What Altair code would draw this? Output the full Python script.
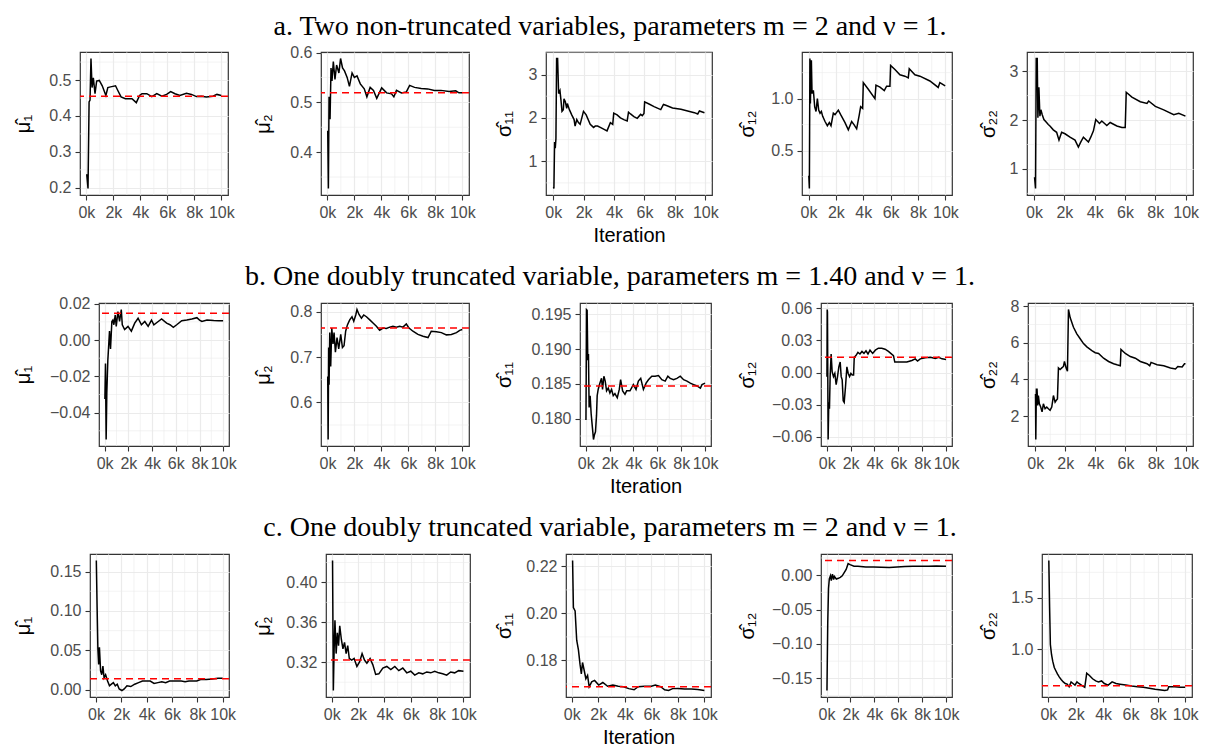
import altair as alt
import pandas as pd

# ------------------------------------------------------------------ data
# Row a: two non-truncated variables
a_mu1_it = [25, 120, 200, 270, 340, 420, 515, 640, 760, 955, 1175, 1445, 1590, 1790, 2160, 2330, 2570, 2890, 3380, 3700, 3945, 4120, 4480, 4850, 5220, 5590, 5950, 6250, 6570, 6930, 7420, 7790, 8160, 8530, 8890, 9380, 9680, 10000]
a_mu1 = [0.238, 0.198, 0.439, 0.444, 0.560, 0.479, 0.506, 0.462, 0.497, 0.499, 0.484, 0.457, 0.479, 0.481, 0.484, 0.471, 0.453, 0.448, 0.448, 0.437, 0.457, 0.462, 0.462, 0.454, 0.462, 0.455, 0.460, 0.468, 0.462, 0.457, 0.463, 0.460, 0.454, 0.455, 0.453, 0.455, 0.460, 0.457]

a_mu2_it = [24, 73, 122, 195, 268, 341, 439, 561, 683, 854, 976, 1122, 1268, 1463, 1634, 1829, 2000, 2195, 2439, 2732, 2927, 3171, 3415, 3659, 4024, 4390, 4756, 4927, 5122, 5488, 5854, 6098, 6463, 6951, 7439, 7927, 8415, 9024, 9512, 9756, 10000]
a_mu2 = [0.443, 0.327, 0.511, 0.466, 0.569, 0.543, 0.582, 0.546, 0.575, 0.559, 0.588, 0.569, 0.563, 0.550, 0.532, 0.559, 0.550, 0.553, 0.537, 0.527, 0.511, 0.530, 0.524, 0.508, 0.529, 0.519, 0.517, 0.511, 0.524, 0.519, 0.521, 0.534, 0.530, 0.528, 0.527, 0.524, 0.524, 0.522, 0.523, 0.519, 0.519]

a_s11_it = [20, 44, 88, 133, 177, 221, 287, 354, 442, 508, 575, 663, 707, 796, 884, 928, 1061, 1216, 1370, 1437, 1547, 1658, 1768, 1879, 1989, 2166, 2431, 2652, 2763, 2917, 3094, 3315, 3536, 3757, 3912, 3978, 4199, 4420, 4641, 4862, 4950, 5083, 5304, 5525, 5746, 5857, 5967, 6011, 6299, 6630, 7072, 7249, 7404, 7846, 8398, 8840, 9282, 9503, 9614, 9945]
a_s11 = [0.41, 0.37, 1.44, 1.30, 1.52, 3.37, 3.37, 2.56, 2.63, 2.41, 2.15, 2.19, 2.44, 2.37, 2.22, 2.33, 2.19, 2.07, 1.96, 1.81, 1.96, 1.89, 1.85, 2.00, 2.15, 2.07, 1.85, 1.78, 1.81, 1.81, 1.78, 1.74, 1.70, 1.89, 1.85, 2.11, 2.07, 2.00, 1.96, 1.93, 2.13, 2.09, 2.03, 1.99, 2.08, 2.05, 2.10, 2.37, 2.32, 2.26, 2.19, 2.31, 2.29, 2.23, 2.20, 2.16, 2.12, 2.09, 2.16, 2.12]

a_s12_it = [20, 60, 100, 134, 207, 255, 353, 450, 547, 645, 742, 839, 937, 1034, 1204, 1375, 1521, 1642, 1812, 1934, 2177, 2348, 2664, 2907, 3151, 3321, 3516, 3710, 3808, 3954, 4002, 4367, 4854, 4927, 5219, 5535, 5705, 5948, 5997, 6313, 6678, 7043, 7287, 7360, 7773, 8138, 8868, 9476, 9597, 9986]
a_s12 = [0.26, 0.136, 1.386, 0.954, 1.37, 1.05, 1.08, 0.92, 0.877, 1.00, 0.89, 0.86, 0.877, 0.83, 0.78, 0.74, 0.77, 0.74, 0.86, 0.846, 0.89, 0.846, 0.77, 0.70, 0.78, 0.75, 0.71, 0.846, 0.923, 0.907, 1.154, 1.09, 1.00, 1.13, 1.11, 1.077, 1.12, 1.12, 1.32, 1.28, 1.23, 1.216, 1.20, 1.287, 1.23, 1.216, 1.17, 1.108, 1.154, 1.123]

a_s22_it = [31, 97, 141, 208, 252, 318, 384, 450, 539, 649, 826, 936, 1047, 1267, 1488, 1643, 1819, 2040, 2371, 2702, 2923, 3078, 3255, 3586, 3740, 3917, 4072, 4315, 4469, 4800, 5021, 5463, 5794, 6015, 6081, 6456, 7008, 7450, 7560, 8002, 8554, 9216, 9547, 9989]
a_s22 = [0.83, 0.60, 3.26, 3.26, 2.05, 2.67, 2.08, 2.21, 2.11, 2.01, 1.95, 1.91, 1.88, 1.80, 1.75, 1.59, 1.75, 1.72, 1.65, 1.59, 1.45, 1.55, 1.65, 1.55, 1.65, 1.78, 2.01, 1.93, 1.98, 1.89, 1.95, 1.88, 1.85, 1.85, 2.57, 2.47, 2.375, 2.34, 2.39, 2.28, 2.21, 2.11, 2.14, 2.08]

# Row b: one doubly truncated variable, m = 1.40
b_mu1_it = [20, 68, 125, 181, 266, 408, 493, 606, 692, 776, 890, 975, 1117, 1258, 1400, 1485, 1683, 1967, 2250, 2534, 2817, 3100, 3384, 3667, 3950, 4149, 4517, 4800, 5226, 5509, 5792, 6076, 6501, 6926, 7351, 7776, 8003, 8201, 8627, 9194, 9619, 9987]
b_mu1 = [-0.0325, -0.013, -0.0548, -0.029, -0.0112, 0.0049, -0.005, 0.0102, 0.011, 0.0084, 0.0138, 0.0075, 0.0156, 0.0102, 0.0168, 0.0084, 0.0058, 0.0075, 0.0049, 0.0093, 0.012, 0.0084, 0.0102, 0.0075, 0.011, 0.0084, 0.0102, 0.0116, 0.0093, 0.0084, 0.007, 0.0084, 0.0106, 0.011, 0.0116, 0.0123, 0.011, 0.0102, 0.011, 0.0107, 0.0106, 0.0106]

b_mu2_it = [20, 50, 90, 120, 170, 240, 320, 415, 490, 590, 710, 835, 985, 1110, 1230, 1350, 1480, 1650, 1820, 1950, 2100, 2190, 2340, 2520, 2690, 2890, 3140, 3380, 3630, 3870, 4120, 4370, 4620, 4860, 5110, 5360, 5600, 5850, 6050, 6340, 6710, 7090, 7460, 7700, 8080, 8450, 8820, 9190, 9570, 9810, 10000]
b_mu2 = [0.657, 0.518, 0.721, 0.639, 0.754, 0.679, 0.764, 0.729, 0.754, 0.711, 0.743, 0.718, 0.750, 0.721, 0.725, 0.757, 0.771, 0.782, 0.789, 0.779, 0.793, 0.805, 0.794, 0.786, 0.793, 0.789, 0.782, 0.775, 0.768, 0.759, 0.764, 0.763, 0.766, 0.768, 0.766, 0.768, 0.766, 0.773, 0.764, 0.757, 0.750, 0.746, 0.743, 0.757, 0.756, 0.754, 0.749, 0.750, 0.754, 0.759, 0.761]

b_s11_it = [20, 40, 62, 118, 174, 230, 286, 370, 455, 567, 651, 735, 819, 904, 960, 1044, 1184, 1324, 1409, 1521, 1633, 1746, 1886, 2026, 2166, 2306, 2447, 2643, 2812, 2924, 3092, 3289, 3429, 3710, 3990, 4215, 4411, 4608, 4832, 5057, 5253, 5534, 5814, 6095, 6375, 6656, 6880, 7077, 7357, 7638, 7919, 8199, 8480, 8760, 9041, 9322, 9602, 9742, 9995]
b_s11 = [0.1798, 0.186, 0.1957, 0.1956, 0.1884, 0.1893, 0.1816, 0.1833, 0.1807, 0.1786, 0.177, 0.1777, 0.1781, 0.1805, 0.1833, 0.1842, 0.1851, 0.1858, 0.1842, 0.1861, 0.1854, 0.184, 0.1844, 0.1837, 0.1842, 0.1833, 0.1836, 0.183, 0.1842, 0.1856, 0.184, 0.1835, 0.184, 0.184, 0.1849, 0.1842, 0.1854, 0.1858, 0.1842, 0.1851, 0.1856, 0.1861, 0.1861, 0.1862, 0.1856, 0.1854, 0.1861, 0.1858, 0.1856, 0.1858, 0.1861, 0.1856, 0.1854, 0.1851, 0.1849, 0.1847, 0.1844, 0.1849, 0.1851]

b_s12_it = [20, 40, 62, 118, 174, 230, 286, 370, 455, 567, 679, 791, 904, 1016, 1128, 1212, 1296, 1381, 1465, 1577, 1690, 1802, 1914, 2026, 2138, 2250, 2306, 2447, 2615, 2784, 2952, 3120, 3289, 3457, 3626, 3850, 4074, 4327, 4608, 4888, 5169, 5365, 5590, 5702, 5870, 6291, 6712, 7133, 7413, 7610, 7834, 8255, 8676, 9097, 9378, 9658, 9995]
b_s12 = [-0.0038, 0.0588, 0.0564, -0.0624, -0.0278, -0.0338, -0.0038, 0.0173, 0.0008, -0.0038, -0.0008, -0.0113, -0.0038, 0.0053, 0.0098, -0.0038, -0.0068, -0.0263, -0.0278, -0.0128, 0.0053, -0.0008, -0.0038, -0.0008, -0.0023, -0.0023, 0.0143, 0.0158, 0.0188, 0.0173, 0.0197, 0.0179, 0.0203, 0.0173, 0.0209, 0.0179, 0.0209, 0.0227, 0.0227, 0.0218, 0.0197, 0.0179, 0.0158, 0.0098, 0.0098, 0.0098, 0.0098, 0.0113, 0.0128, 0.0107, 0.0128, 0.0137, 0.0143, 0.0131, 0.0143, 0.0128, 0.0122]

b_s22_it = [20, 40, 78, 122, 167, 211, 278, 367, 456, 544, 655, 767, 878, 989, 1100, 1211, 1322, 1389, 1478, 1544, 1655, 1767, 1878, 1944, 2055, 2144, 2211, 2322, 2544, 2766, 2989, 3211, 3433, 3766, 3988, 4211, 4544, 4877, 5210, 5432, 5655, 5700, 5988, 6321, 6654, 6988, 7432, 7610, 7699, 8099, 8543, 8988, 9321, 9476, 9765, 9921, 9988]
b_s22 = [3.2, 0.72, 3.47, 3.47, 2.58, 3.12, 2.67, 2.49, 2.23, 2.67, 2.40, 2.49, 2.40, 2.32, 2.49, 3.12, 2.76, 2.85, 2.94, 4.63, 4.54, 4.63, 4.71, 4.98, 4.63, 4.45, 7.82, 7.38, 6.85, 6.49, 6.22, 5.96, 5.78, 5.57, 5.46, 5.42, 5.16, 4.98, 4.86, 4.80, 4.75, 5.64, 5.42, 5.25, 5.16, 4.98, 4.86, 4.75, 4.93, 4.80, 4.75, 4.63, 4.57, 4.71, 4.68, 4.86, 4.86]

# Row c: one doubly truncated variable, m = 2
c_mu1_it = [30, 92, 153, 214, 275, 367, 459, 550, 642, 765, 917, 1070, 1223, 1376, 1529, 1682, 1835, 2049, 2232, 2446, 2752, 3058, 3364, 3670, 3975, 4281, 4587, 4893, 5199, 5504, 5810, 6116, 6422, 6728, 7033, 7339, 7645, 7951, 8257, 8715, 9174, 9633, 10000]
c_mu1 = [0.164, 0.105, 0.052, 0.032, 0.054, 0.024, 0.019, 0.030, 0.015, 0.019, 0.011, 0.005, 0.007, 0.009, 0.005, 0.007, 0.001, -0.001, 0.001, 0.005, 0.004, 0.007, 0.009, 0.011, 0.011, 0.011, 0.008, 0.009, 0.010, 0.009, 0.011, 0.011, 0.011, 0.011, 0.010, 0.011, 0.011, 0.011, 0.013, 0.013, 0.0135, 0.0145, 0.0146]

c_mu2_it = [60, 121, 182, 242, 333, 424, 515, 606, 727, 848, 970, 1091, 1212, 1333, 1515, 1697, 1909, 2121, 2303, 2485, 2666, 2909, 3121, 3333, 3575, 3878, 4181, 4484, 4787, 5090, 5393, 5696, 5999, 6302, 6605, 6908, 7211, 7514, 7817, 8120, 8423, 8726, 9029, 9332, 9635, 9999]
c_mu2 = [0.422, 0.2917, 0.3335, 0.362, 0.3287, 0.3495, 0.3367, 0.3566, 0.3431, 0.3335, 0.34, 0.3287, 0.3367, 0.3238, 0.3222, 0.3238, 0.3158, 0.3206, 0.3287, 0.3222, 0.319, 0.3238, 0.3174, 0.3078, 0.3084, 0.3142, 0.3158, 0.3126, 0.3158, 0.3116, 0.3142, 0.3094, 0.311, 0.3071, 0.3094, 0.3084, 0.3103, 0.3094, 0.311, 0.3094, 0.3084, 0.3071, 0.3103, 0.3094, 0.3116, 0.311]

c_s11_it = [60, 120, 250, 370, 500, 620, 720, 810, 940, 1060, 1190, 1310, 1500, 1720, 2030, 2340, 2700, 3100, 3500, 3900, 4300, 4700, 5000, 5500, 6000, 6300, 6700, 7000, 7300, 7600, 8000, 8500, 9000, 9500, 10000]
c_s11 = [0.2225, 0.2025, 0.201, 0.1886, 0.1845, 0.1784, 0.1743, 0.1791, 0.1756, 0.1722, 0.1736, 0.1688, 0.1709, 0.1715, 0.1695, 0.1706, 0.169, 0.1695, 0.169, 0.1688, 0.168, 0.1675, 0.1688, 0.169, 0.169, 0.1695, 0.1688, 0.1675, 0.1672, 0.168, 0.1681, 0.1678, 0.1678, 0.1676, 0.1672]

c_s12_it = [33, 98, 164, 230, 328, 394, 492, 590, 656, 820, 984, 1148, 1312, 1476, 1640, 1804, 1968, 2296, 2624, 3280, 3936, 4592, 5248, 5904, 6560, 7216, 7872, 8528, 9184, 10000]
c_s12 = [-0.1676, -0.0704, -0.0194, -0.0056, -0.0009, -0.0079, 0.0014, -0.0065, -0.0019, -0.0056, -0.0046, -0.0032, -0.0009, 0.0037, 0.0083, 0.0167, 0.0153, 0.013, 0.013, 0.012, 0.012, 0.0116, 0.0111, 0.012, 0.0125, 0.013, 0.013, 0.013, 0.0134, 0.013]

c_s22_it = [29, 86, 143, 229, 314, 429, 543, 657, 800, 943, 1086, 1229, 1371, 1514, 1657, 1800, 1943, 2086, 2228, 2514, 2657, 2800, 3000, 3228, 3457, 3657, 3886, 4086, 4371, 4657, 4943, 5228, 5657, 6085, 6514, 6943, 7371, 7800, 8228, 8514, 8714, 8800, 9228, 9657, 10000]
c_s22 = [1.866, 1.4125, 1.044, 0.944, 0.881, 0.819, 0.787, 0.756, 0.725, 0.70, 0.678, 0.6625, 0.656, 0.631, 0.678, 0.6625, 0.647, 0.678, 0.6625, 0.6375, 0.625, 0.7625, 0.741, 0.709, 0.6875, 0.678, 0.6875, 0.6625, 0.647, 0.678, 0.6625, 0.656, 0.647, 0.6375, 0.631, 0.625, 0.616, 0.606, 0.60, 0.594, 0.60, 0.631, 0.631, 0.625, 0.625]

# true parameter values (red dashed lines); None = no line
ref_a = [0.455, 0.519, None, None, None]
ref_b = [0.0148, 0.7643, 0.1847, 0.0143, None]
ref_c = [0.0138, 0.3222, 0.1688, 0.0213, 0.641]

# y tick labels
ticks_a = [[0.2, 0.3, 0.4, 0.5], [0.4, 0.5, 0.6], [1, 2, 3], [0.5, 1.0], [1, 2, 3]]
ticks_b = [[-0.04, -0.02, 0.0, 0.02], [0.6, 0.7, 0.8], [0.180, 0.185, 0.190, 0.195], [-0.06, -0.03, 0.0, 0.03, 0.06], [2, 4, 6, 8]]
ticks_c = [[0.0, 0.05, 0.10, 0.15], [0.32, 0.36, 0.40], [0.18, 0.20, 0.22], [-0.15, -0.10, -0.05, 0.0], [1.0, 1.5]]
fmt_a = [".1f", ".1f", ".0f", ".1f", ".0f"]
fmt_b = [".2f", ".1f", ".3f", ".2f", ".0f"]
fmt_c = [".2f", ".2f", ".2f", ".2f", ".1f"]
x_ticks = [0, 2000, 4000, 6000, 8000, 10000]

row_titles = [
    "a. Two non-truncated variables, parameters m = 2 and ν = 1.",
    "b. One doubly truncated variable, parameters m = 1.40 and ν = 1.",
    "c. One doubly truncated variable, parameters m = 2 and ν = 1.",
]
y_titles = ["μ\u0302\u2081", "μ\u0302\u2082", "σ\u0302\u2081\u2081", "σ\u0302\u2081\u2082", "σ\u0302\u2082\u2082"]

series = [
    [(a_mu1_it, a_mu1), (a_mu2_it, a_mu2), (a_s11_it, a_s11), (a_s12_it, a_s12), (a_s22_it, a_s22)],
    [(b_mu1_it, b_mu1), (b_mu2_it, b_mu2), (b_s11_it, b_s11), (b_s12_it, b_s12), (b_s22_it, b_s22)],
    [(c_mu1_it, c_mu1), (c_mu2_it, c_mu2), (c_s11_it, c_s11), (c_s12_it, c_s12), (c_s22_it, c_s22)],
]
refs = [ref_a, ref_b, ref_c]
ticks = [ticks_a, ticks_b, ticks_c]
fmts = [fmt_a, fmt_b, fmt_c]

# ------------------------------------------------------------------ layout (page px)
ROW_L = [[80, 321, 546, 802, 1027], [99, 321, 580, 821, 1028], [90, 326, 566, 821, 1042]]
ROW_R = [[228, 469, 712, 952, 1193], [229, 469, 711, 952, 1193], [229, 470, 711, 952, 1192]]
YT_CENTER = [23, 263, 504, 747, 988]
PANEL_H = 143
ROW_SPACING = 16
PAGE_RIGHT = 1205
TITLE_CX = 610                  # page x of the row-title centre
TITLE_Y = [-39, -26, -26]       # relative to the row's plot top
TITLE_BASE = ["top", "middle", "middle"]
TITLE_SIZE = 28
TOP_PAD_Y = -42                 # keeps a small margin above the first title

FONT = "Liberation Sans"


def minor_breaks(major, lo, hi):
    step = major[1] - major[0]
    cands = [major[0] - step / 2] + [m + step / 2 for m in major]
    return [v for v in cands if lo <= v <= hi]


def panel(r, c):
    it, val = series[r][c]
    ref = refs[r][c]
    allv = list(val) + ([ref] if ref is not None else [])
    lo, hi = min(allv), max(allv)
    pad = 0.05 * (hi - lo)
    ydom = [lo - pad, hi + pad]
    xlo, xhi = min(it), max(it)
    xpad = 0.05 * (xhi - xlo)
    xdom = [xlo - xpad, xhi + xpad]
    L, R = ROW_L[r][c], ROW_R[r][c]

    yaxis = alt.Axis(values=ticks[r][c], format=fmts[r][c], title=y_titles[c],
                     titleX=YT_CENTER[c] - L, titleBaseline="middle", titleAlign="center",
                     titleAngle=270)
    xaxis = alt.Axis(values=x_ticks, labelExpr="(datum.value/1000) + 'k'",
                     title="Iteration" if c == 2 else None)
    X = alt.X("it:Q", scale=alt.Scale(domain=xdom, nice=False, zero=False), axis=xaxis)
    Y = alt.Y("val:Q", scale=alt.Scale(domain=ydom, nice=False, zero=False), axis=yaxis)

    ymin = pd.DataFrame({"val": minor_breaks(ticks[r][c], ydom[0], ydom[1])})
    xmin = pd.DataFrame({"it": minor_breaks(x_ticks, xdom[0], xdom[1])})
    df = pd.DataFrame({"it": it, "val": val})

    layers = [
        alt.Chart(ymin).mark_rule(color="#EBEBEB", strokeWidth=0.6).encode(y=Y),
        alt.Chart(xmin).mark_rule(color="#EBEBEB", strokeWidth=0.6).encode(x=X),
        alt.Chart(df).mark_line(color="black", strokeWidth=1.5).encode(x=X, y=Y),
    ]
    if ref is not None:
        layers.append(
            alt.Chart(pd.DataFrame({"val": [ref]}))
            .mark_rule(color="#FF0000", strokeDash=[7, 5], strokeWidth=1.5)
            .encode(y=Y)
        )
    if c == 2:  # row title, drawn above the middle panel
        layers.append(
            alt.Chart(pd.DataFrame({"t": [row_titles[r]]}))
            .mark_text(font="Liberation Serif", fontSize=TITLE_SIZE, color="black",
                       align="center", baseline=TITLE_BASE[r])
            .encode(text="t:N", x=alt.value(TITLE_CX - L), y=alt.value(TITLE_Y[r]))
        )
        if r == 0:  # invisible anchor that reserves a little room above the title
            layers.append(
                alt.Chart(pd.DataFrame({"t": [""]}))
                .mark_point(opacity=0, size=1)
                .encode(x=alt.value(0), y=alt.value(TOP_PAD_Y))
            )
    return alt.layer(*layers).properties(width=R - L, height=PANEL_H)


def spacer(w):
    df = pd.DataFrame({"t": [""]})
    ch = alt.Chart(df).mark_text().encode(text="t:N", x=alt.value(0), y=alt.value(0))
    return ch.properties(width=w, height=PANEL_H, view=alt.ViewBackground(strokeOpacity=0))


rows = []
for r in range(3):
    Ls, Rs = ROW_L[r], ROW_R[r]
    items = [spacer(Ls[0] - 8)]
    for c in range(5):
        items.append(panel(r, c))
        right_w = (Ls[c + 1] - Rs[c]) if c < 4 else (PAGE_RIGHT - Rs[c])
        items.append(spacer(right_w))
    rows.append(alt.hconcat(*items, spacing=0, bounds="flush"))

chart = alt.vconcat(*rows, spacing=ROW_SPACING, bounds="full").properties(
    padding=0
).configure_view(
    stroke="#333333", strokeWidth=1.2
).configure_axis(
    domain=False, tickColor="#333333", tickWidth=1.1, tickSize=5,
    labelFont=FONT, labelFontSize=16, labelColor="#4D4D4D", labelPadding=4,
    titleFont=FONT, titleFontSize=20, titleFontWeight="normal", titleColor="black",
    gridColor="#EBEBEB", gridWidth=1.2, labelOverlap=False, labelFlush=False,
).configure_axisX(titlePadding=5)

chart.save("out.html", embed_options={"renderer": "svg", "actions": False})
